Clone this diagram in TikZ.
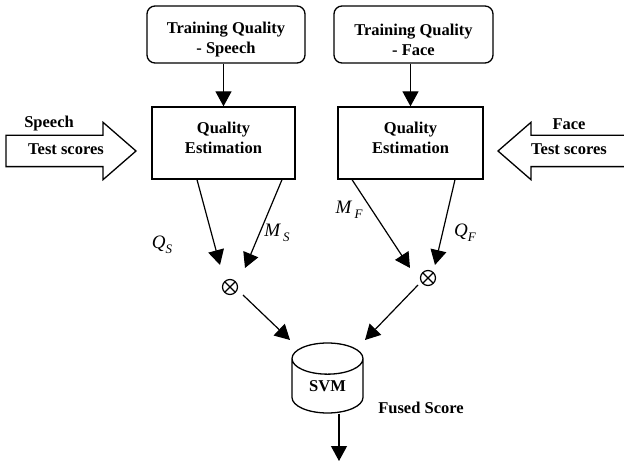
\documentclass[tikz,border=0pt]{standalone}
\usepackage{fontspec}
\setmainfont{Liberation Serif}
\usetikzlibrary{shapes.geometric,shapes.arrows,arrows.meta,calc}
\newcommand{\qsub}[2]{#1\raisebox{-5pt}{\fontsize{13}{13}\selectfont #2}}
\newcommand{\shiftline}[2]{\raisebox{#1}[\height][\depth]{#2}}
\tikzset{
  trainbox/.style={rectangle, draw, line width=1.3pt, rounded corners=8pt,
    minimum width=158, minimum height=57, align=center,
    font=\fontsize{16.5}{20}\selectfont\bfseries, inner sep=2pt},
  qualbox/.style={rectangle, draw, line width=1.3pt, minimum width=143,
    minimum height=72, align=center,
    font=\fontsize{16.5}{20}\selectfont\bfseries, inner sep=2pt},
  inarrow/.style={single arrow, draw, line width=1.3pt, minimum height=130,
    single arrow head extend=13, single arrow tip angle=82,
    inner xsep=0pt, inner ysep=15pt},
  multnode/.style={circle, draw, line width=1.2pt, minimum size=15, inner sep=0pt,
    path picture={\draw[line width=1.2pt]
      (path picture bounding box.north west) -- (path picture bounding box.south east)
      (path picture bounding box.north east) -- (path picture bounding box.south west);}},
  svmnode/.style={cylinder, shape border rotate=90, draw, line width=1.3pt,
    minimum width=71, minimum height=70, aspect=0.85,
    font=\fontsize{16.5}{20}\selectfont\bfseries, inner sep=0pt},
  txtlabel/.style={font=\fontsize{16.5}{20}\selectfont\bfseries, inner sep=0pt},
  mathlabel/.style={font=\fontsize{19}{22}\selectfont\itshape, inner sep=0pt},
  flowarrow/.style={-{Triangle[length=15pt,width=16pt]}, line width=1.2pt},
}
\begin{document}
\begin{tikzpicture}[x=1pt,y=-1pt]
  \clip (0,0) rectangle (624,462);

  % training and estimation blocks
  \node[trainbox] (tqs) at (226,34.5)
    {\shiftline{-5pt}{Training Quality}\\\shiftline{-5pt}{- Speech}};
  \node[trainbox, minimum width=159] (tqf) at (413.5,34.5)
    {\shiftline{-5pt}{Training Quality}\\\shiftline{-5pt}{- Face}};
  \node[qualbox] (qes) at (223.5,143)
    {\shiftline{5pt}{Quality}\\\shiftline{5pt}{Estimation}};
  \node[qualbox, minimum width=145] (qef) at (410.5,143)
    {\shiftline{5pt}{Quality}\\\shiftline{5pt}{Estimation}};

  % test score inputs
  \node[inarrow, anchor=tip] (sin) at (137,151) {};
  \node[inarrow, minimum height=140, shape border rotate=180, anchor=tip] (fin) at (497,151) {};
  \node[txtlabel] (sname) at (49,124) {Speech};
  \node[txtlabel] (stest) at (66,149) {Test scores};
  \node[txtlabel] (fname) at (569,124) {Face};
  \node[txtlabel] (ftest) at (569,149) {Test scores};

  % products and fusion
  \node[multnode] (ots) at (230,287) {};
  \node[multnode] (otf) at (428,278) {};
  \node[svmnode, anchor=shape center] (svm) at (327.5,378) {SVM};
  \node[txtlabel] (fused) at (421,408) {Fused Score};
  \coordinate (out) at (339,461);

  \node[mathlabel] (qs) at (162,245) {\qsub{Q}{S}};
  \node[mathlabel] (ms) at (277,233) {\qsub{M\,}{S}};
  \node[mathlabel] (mf) at (349,210) {\qsub{M\,}{F}};
  \node[mathlabel] (qf) at (465,233) {\qsub{Q}{F}};

  \draw[flowarrow] (qes.north |- tqs.south) -- (qes.north);
  \draw[flowarrow] (qef.north |- tqf.south) -- (qef.north);
  \draw[flowarrow] ($(qes.south)+(-26.5,0)$) -- ($(ots)+(-10,-22)$);
  \draw[flowarrow] ($(qes.south)+(58.5,0)$) -- ($(ots)+(15,-19)$);
  \draw[flowarrow] ($(qef.south)+(-58.5,0)$) -- ($(otf)+(-18,-10)$);
  \draw[flowarrow] ($(qef.south)+(44.5,0)$) -- ($(otf)+(7,-13)$);
  \draw[flowarrow] ($(ots)+(13,8)$) -- ($(svm.shape center)+(-37.5,-38)$);
  \draw[flowarrow] ($(otf)+(-10,7)$) -- ($(svm.shape center)+(37.5,-38)$);
  \draw[flowarrow] (svm.south -| out) -- (out);
\end{tikzpicture}
\end{document}
